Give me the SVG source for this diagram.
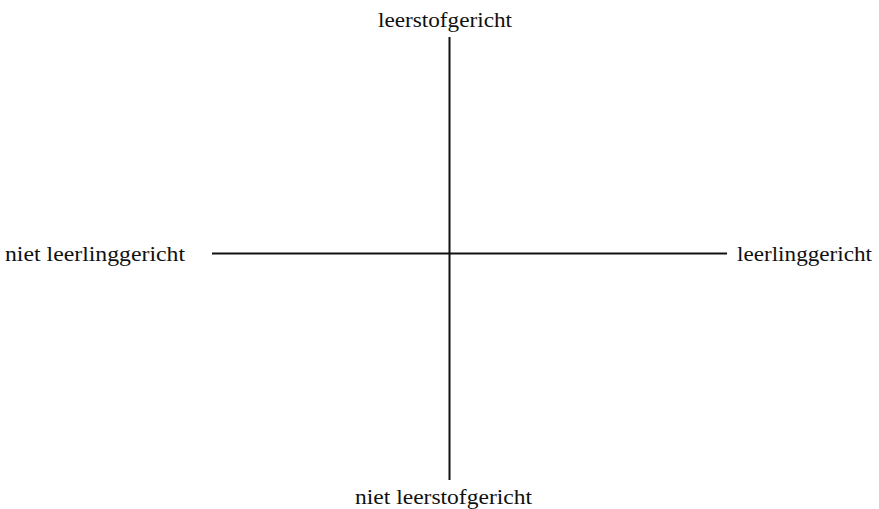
<svg xmlns="http://www.w3.org/2000/svg" width="879" height="509" viewBox="0 0 879 509">
<style>
.lbl{font-family:"Liberation Serif","Times New Roman",serif;font-size:20px;fill:#111}
.ax{stroke:#111;stroke-width:2;fill:none}
</style>
<rect width="879" height="509" fill="#fff"/>
<g id="connectors">
<line class="ax" x1="212" y1="253.5" x2="727" y2="253.5"/>
<line class="ax" x1="449.5" y1="37" x2="449.5" y2="480"/>
</g>
<g id="top"><text class="lbl" x="378" y="27" textLength="134" lengthAdjust="spacingAndGlyphs">leerstofgericht</text></g>
<g id="left"><text class="lbl" x="5" y="261" textLength="180" lengthAdjust="spacingAndGlyphs">niet leerlinggericht</text></g>
<g id="right"><text class="lbl" x="737" y="261" textLength="135" lengthAdjust="spacingAndGlyphs">leerlinggericht</text></g>
<g id="bottom"><text class="lbl" x="355" y="504" textLength="177" lengthAdjust="spacingAndGlyphs">niet leerstofgericht</text></g>
</svg>
